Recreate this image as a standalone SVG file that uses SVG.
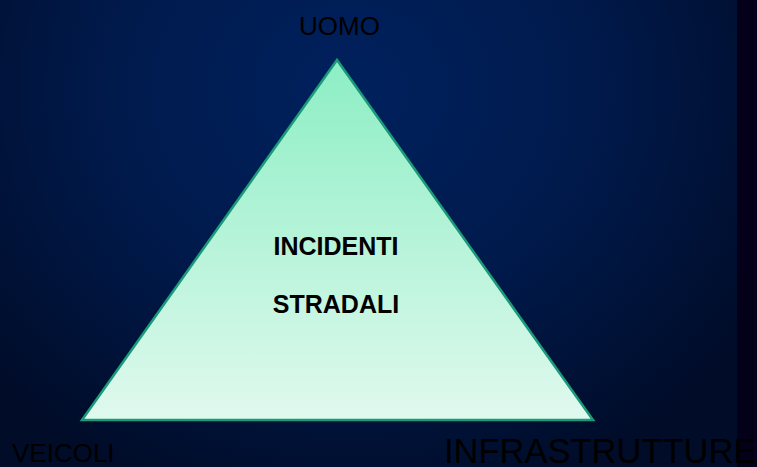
<svg xmlns="http://www.w3.org/2000/svg" width="757" height="467" viewBox="0 0 757 467">
  <defs>
    <radialGradient id="bg" cx="350" cy="90" r="480" gradientUnits="userSpaceOnUse" gradientTransform="translate(350 90) scale(1 0.9) translate(-350 -90)">
      <stop offset="0" stop-color="#00215e"/>
      <stop offset="0.5" stop-color="#001a4c"/>
      <stop offset="1" stop-color="#000c28"/>
    </radialGradient>
    <linearGradient id="tri" x1="0" y1="60" x2="0" y2="420" gradientUnits="userSpaceOnUse">
      <stop offset="0" stop-color="#8ceec4"/>
      <stop offset="1" stop-color="#e0f9ee"/>
    </linearGradient>
    <style>
      .lbl { font-family: "Liberation Sans", Arial, sans-serif; fill: #000000; }
      .mid { font-family: "Liberation Sans", Arial, sans-serif; font-weight: bold; font-size: 25px; fill: #000000; text-anchor: middle; }
    </style>
  </defs>
  <rect x="0" y="0" width="757" height="467" fill="url(#bg)"/>
  <rect x="737" y="0" width="20" height="467" fill="#05001a"/>
  <g id="triangle">
    <polygon points="337,60 82,420 593,420" fill="url(#tri)" stroke="#1a9a78" stroke-width="2.5" stroke-linejoin="miter"/>
    <text class="mid" x="336" y="255">INCIDENTI</text>
    <text class="mid" x="336" y="313">STRADALI</text>
  </g>
  <g id="uomo"><text class="lbl" x="299" y="35" font-size="26">UOMO</text></g>
  <g id="veicoli"><text class="lbl" x="12" y="462" font-size="26">VEICOLI</text></g>
  <g id="infrastrutture"><text class="lbl" x="444" y="463" font-size="34.5">INFRASTRUTTURE</text></g>
  <g id="connectors"/>
</svg>
